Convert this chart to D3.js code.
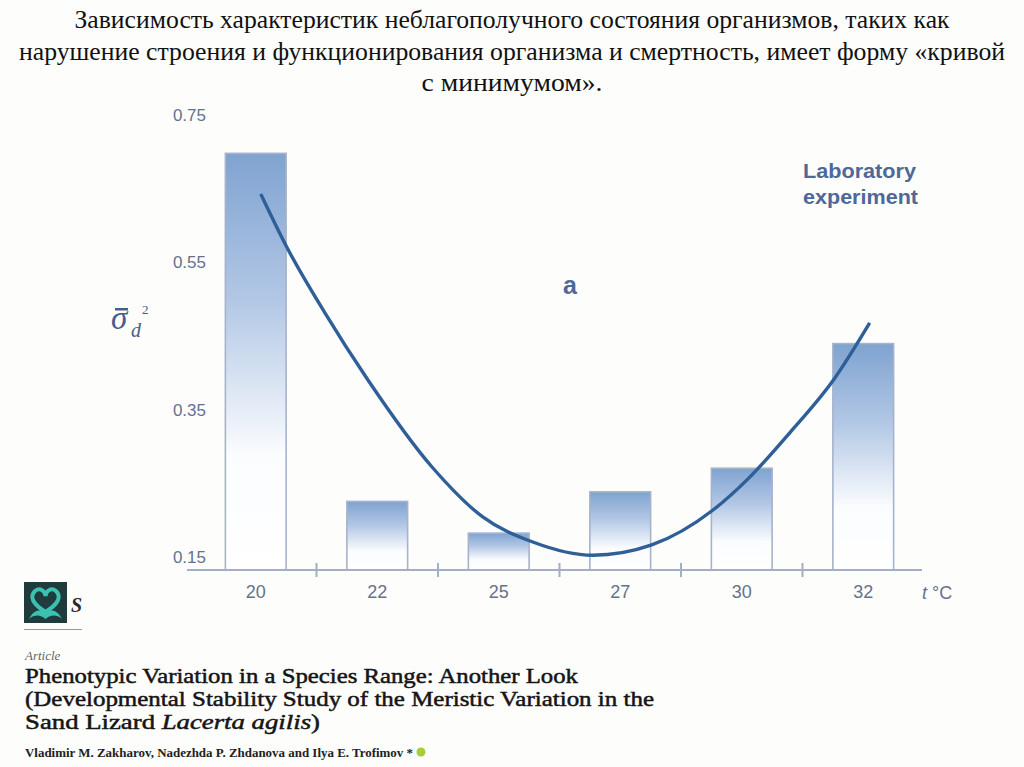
<!DOCTYPE html>
<html>
<head>
<meta charset="utf-8">
<script src="https://cdn.jsdelivr.net/npm/d3@7"></script>
<style>
  html, body { margin: 0; padding: 0; background: #fdfdfc; }
  svg { display: block; }
</style>
</head>
<body>
<svg id="chart" width="1024" height="767"></svg>
<script>
// ---- data ----
const categories = ["20", "22", "25", "27", "30", "32"];
const barValues = [0.698, 0.226, 0.183, 0.239, 0.271, 0.440];
const yTicks = [0.15, 0.35, 0.55, 0.75];
// fitted curve: position along category axis (0 = first category centre) and value
const curvePos = [0.041, 0.255, 0.568, 0.922, 1.449, 1.868, 2.28, 2.774, 3.259, 3.761, 4.066, 4.395, 4.765, 5.053];
const curveVal = [0.643, 0.571, 0.482, 0.391, 0.273, 0.205, 0.171, 0.153, 0.167, 0.214, 0.259, 0.319, 0.393, 0.468];
const titleLines = [
  "Зависимость характеристик неблагополучного состояния организмов, таких как",
  "нарушение строения и функционирования организма и смертность, имеет форму «кривой",
  "с минимумом»."
];
const seriesLabel = ["Laboratory", "experiment"];
const panelLetter = "a";
const xUnit = "°C";
const paperTitle = [
  "Phenotypic Variation in a Species Range: Another Look",
  "(Developmental Stability Study of the Meristic Variation in the"
];
const authors = "Vladimir M. Zakharov, Nadezhda P. Zhdanova and Ilya E. Trofimov *";

const SERIF = "'Liberation Serif', serif";
const SANS = "'Liberation Sans', Arial, sans-serif";

const svg = d3.select("#chart");
svg.append("rect").attr("width", 1024).attr("height", 767).attr("fill", "#fdfdfc");

// ---- header ----
const titleWidths = [875, 986, 181];
const titleY = [28, 60, 91];
titleLines.forEach((t, i) => {
  svg.append("text")
    .attr("x", 512).attr("y", titleY[i])
    .attr("text-anchor", "middle")
    .style("font-family", SERIF)
    .attr("font-size", 25)
    .attr("fill", "#111")
    .attr("textLength", titleWidths[i])
    .attr("lengthAdjust", "spacingAndGlyphs")
    .text(t);
});

// ---- scales ----
const x = d3.scaleBand().domain(categories).range([195, 924]).paddingInner(0.5).paddingOuter(0.25);
const y = d3.scaleLinear().domain([0.133, 0.75]).range([570, 115]);
const xPos = d3.scaleLinear().domain([0, categories.length - 1])
  .range([x(categories[0]) + x.bandwidth() / 2, x(categories[categories.length - 1]) + x.bandwidth() / 2]);

const defs = svg.append("defs");
const grad = defs.append("linearGradient").attr("id", "barGrad")
  .attr("x1", 0).attr("y1", 0).attr("x2", 0).attr("y2", 1);
grad.append("stop").attr("offset", "0%").attr("stop-color", "#7fa3d0");
grad.append("stop").attr("offset", "35%").attr("stop-color", "#b2c7e5");
grad.append("stop").attr("offset", "72%").attr("stop-color", "#fafcfe");
grad.append("stop").attr("offset", "100%").attr("stop-color", "#ffffff");

svg.append("g").selectAll("rect").data(categories).join("rect")
  .attr("x", d => x(d))
  .attr("y", (d, i) => y(barValues[i]))
  .attr("width", x.bandwidth())
  .attr("height", (d, i) => y.range()[0] - y(barValues[i]))
  .attr("fill", "url(#barGrad)")
  .attr("stroke", "#a6b3ca")
  .attr("stroke-width", 1.6);

const axisColor = "#a3afc6";
svg.append("line")
  .attr("x1", 187).attr("x2", 922).attr("y1", y.range()[0]).attr("y2", y.range()[0])
  .attr("stroke", axisColor).attr("stroke-width", 2.2);
const sep = categories.slice(0, -1).map(c => x(c) + x.bandwidth() + (x.step() - x.bandwidth()) / 2);
svg.append("g").selectAll("line").data(sep).join("line")
  .attr("x1", d => d).attr("x2", d => d)
  .attr("y1", y.range()[0] - 7).attr("y2", y.range()[0] + 7)
  .attr("stroke", axisColor).attr("stroke-width", 2);

const xa = svg.append("g").attr("transform", `translate(0,${y.range()[0]})`)
  .call(d3.axisBottom(x).tickSize(0).tickPadding(15));
xa.select(".domain").remove();
xa.selectAll("text").attr("font-family", SANS)
  .attr("font-size", 18).attr("fill", "#66718c");

const ya = svg.append("g").attr("transform", "translate(212,0)")
  .call(d3.axisLeft(y).tickValues(yTicks).tickFormat(d3.format(".2f")).tickSize(0).tickPadding(6));
ya.select(".domain").remove();
ya.selectAll("text").attr("font-family", SANS)
  .attr("font-size", 17).attr("fill", "#66718c");

const unit = svg.append("text").attr("x", 922).attr("y", 599)
  .attr("font-family", SANS).attr("font-size", 18).attr("fill", "#66718c");
unit.append("tspan").attr("font-style", "italic").text("t ");
unit.append("tspan").text(xUnit);

const line = d3.line().x(d => xPos(d[0])).y(d => y(d[1])).curve(d3.curveMonotoneX);
svg.append("path")
  .datum(curvePos.map((p, i) => [p, curveVal[i]]))
  .attr("d", line)
  .attr("fill", "none")
  .attr("stroke", "#2f5f98")
  .attr("stroke-width", 3.4);

// y axis symbol
const sym = svg.append("g").attr("fill", "#46608a").style("font-family", SERIF);
sym.append("text").attr("x", 111).attr("y", 329).attr("font-size", 33).attr("font-style", "italic").text("σ");
sym.append("rect").attr("x", 115).attr("y", 308).attr("width", 13).attr("height", 2.5);
sym.append("text").attr("x", 131).attr("y", 337).attr("font-size", 20).attr("font-style", "italic").text("d");
sym.append("text").attr("x", 142).attr("y", 314).attr("font-size", 13).text("2");

seriesLabel.forEach((t, i) => {
  svg.append("text").attr("x", 803).attr("y", 178 + i * 26)
    .attr("font-family", SANS).attr("font-weight", "bold")
    .attr("font-size", 20).attr("fill", "#4e6898")
    .attr("textLength", i === 0 ? 113 : 115).attr("lengthAdjust", "spacingAndGlyphs")
    .text(t);
});
svg.append("text").attr("x", 570).attr("y", 294).attr("text-anchor", "middle")
  .attr("font-family", SANS).attr("font-weight", "bold")
  .attr("font-size", 25).attr("fill", "#4e6898").text(panelLetter);

// ---- article snippet ----
const logo = svg.append("g");
logo.append("rect").attr("x", 24).attr("y", 582).attr("width", 43).attr("height", 41).attr("fill", "#1f3b3c");
logo.append("path")
  .attr("d", "M45.5 612 C33 604 29 597 35 591 C40 587 45 591 45.5 596 C46 591 51 587 56 591 C62 597 58 604 45.5 612 Z")
  .attr("fill", "none").attr("stroke", "#3cc0b0").attr("stroke-width", 4);
logo.append("path")
  .attr("d", "M29 619 C34 609 41 609 45.5 613 C50 609 57 609 62 619 C56 614 50 615 45.5 619 C41 615 35 614 29 619 Z")
  .attr("fill", "#3cc0b0");
logo.append("text").attr("x", 71).attr("y", 612).style("font-family", SERIF)
  .attr("font-style", "italic").attr("font-weight", "bold").attr("font-size", 20).attr("fill", "#2a2a2a").text("S");
logo.append("line").attr("x1", 24).attr("x2", 82).attr("y1", 629.5).attr("y2", 629.5)
  .attr("stroke", "#9a9a9a").attr("stroke-width", 1);

svg.append("text").attr("x", 25).attr("y", 660).style("font-family", SERIF)
  .attr("font-style", "italic").attr("font-size", 13).attr("fill", "#666").text("Article");

const ptWidths = [553, 629];
paperTitle.forEach((t, i) => {
  svg.append("text").attr("x", 25).attr("y", 683 + i * 23)
    .style("font-family", SERIF)
    .attr("font-size", 22).attr("fill", "#151515")
    .attr("stroke", "#151515").attr("stroke-width", 0.5)
    .attr("textLength", ptWidths[i]).attr("lengthAdjust", "spacingAndGlyphs").text(t);
});
const l3 = svg.append("text").attr("x", 25).attr("y", 729)
  .style("font-family", SERIF)
  .attr("font-size", 22).attr("fill", "#151515")
  .attr("stroke", "#151515").attr("stroke-width", 0.5)
  .attr("textLength", 295).attr("lengthAdjust", "spacingAndGlyphs");
l3.append("tspan").text("Sand Lizard ");
l3.append("tspan").attr("font-style", "italic").text("Lacerta agilis");
l3.append("tspan").text(")");

svg.append("text").attr("x", 25).attr("y", 757).style("font-family", SERIF)
  .attr("font-weight", "bold").attr("font-size", 12.5).attr("fill", "#222")
  .attr("textLength", 388).attr("lengthAdjust", "spacingAndGlyphs").text(authors);
svg.append("circle").attr("cx", 421).attr("cy", 752).attr("r", 4.5).attr("fill", "#a6ce39");
</script>
</body>
</html>
